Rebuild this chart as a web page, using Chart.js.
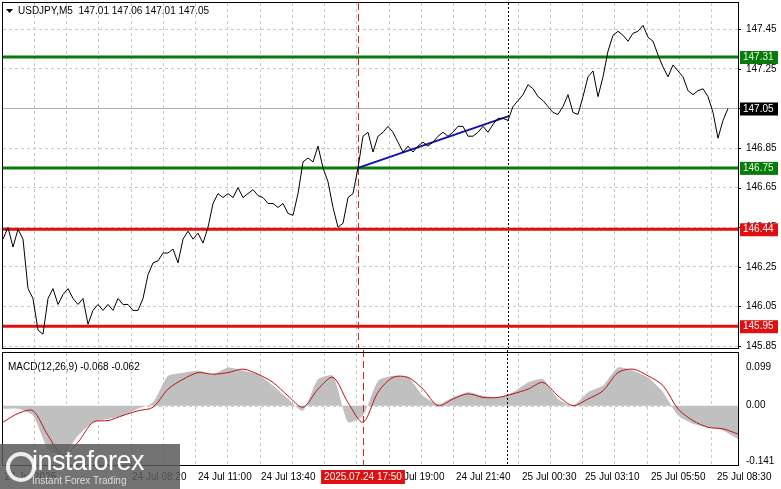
<!DOCTYPE html>
<html><head><meta charset="utf-8">
<script src="https://cdn.jsdelivr.net/npm/chart.js@4"></script>
<style>
body{margin:0;background:#fff;width:781px;height:489px;overflow:hidden;position:relative;font-family:"Liberation Sans",Arial,sans-serif}
#pc{position:absolute;left:0;top:0}
#mc{position:absolute;left:0;top:350px}
#logo{position:absolute;left:0;top:444px;width:180px;height:45px;background:rgba(90,90,90,0.85);color:#fff}
#logo .b{position:absolute;left:32px;top:2px;font-size:27px;letter-spacing:-0.5px}
#logo .s{position:absolute;left:32px;top:31px;font-size:10px;color:#ddd}
#logo .g{position:absolute;left:6px;top:8px;width:22px;height:22px;border:4px solid #eee;border-radius:50%}
</style></head><body>
<canvas id="pc" width="781" height="350"></canvas>
<canvas id="mc" width="781" height="139"></canvas>
<div id="logo"><div class="g"></div><div class="b">instaforex</div><div class="s">Instant Forex Trading</div></div>
<script>
// price, M5 closes
const prices = [146.39,146.45,146.35,146.44,146.39,146.14,146.09,145.93,145.91,146.09,
  146.14,146.06,146.11,146.14,146.09,146.06,146.09,145.96,146.03,146.06,
  146.03,146.06,146.03,146.09,146.06,146.06,146.03,146.03,146.09,146.21,
  146.27,146.28,146.32,146.32,146.34,146.27,146.39,146.43,146.39,146.42,
  146.37,146.45,146.57,146.62,146.60,146.62,146.60,146.65,146.60,146.62,
  146.64,146.61,146.60,146.57,146.57,146.55,146.57,146.52,146.51,146.62,
  146.78,146.80,146.78,146.86,146.75,146.68,146.55,146.45,146.47,146.60,
  146.62,146.75,146.91,146.93,146.83,146.91,146.93,146.96,146.93,146.88,
  146.83,146.86,146.83,146.86,146.88,146.86,146.88,146.91,146.93,146.91,
  146.93,146.96,146.96,146.91,146.91,146.93,146.96,146.93,146.97,147.00,
  147.00,146.99,147.06,147.09,147.12,147.17,147.15,147.11,147.09,147.06,
  147.03,147.02,147.06,147.12,147.03,147.02,147.11,147.21,147.24,147.11,
  147.21,147.34,147.42,147.44,147.42,147.39,147.43,147.44,147.47,147.41,
  147.39,147.32,147.26,147.21,147.27,147.24,147.21,147.14,147.12,147.14,
  147.15,147.11,147.03,146.90,146.99,147.05,null,null];
const priceTicks = [145.85,146.05,146.25,146.45,146.65,146.85,147.05,147.25,147.45];
const greenLevels = [147.31, 146.75];
const redLevels = [146.44, 145.95];
const lastPrice = 147.05;
const trend = [[71,146.75],[101,147.01]];
const redMarkIdx = 71, dotMarkIdx = 101;

// MACD(12,26,9)
const macdHist = [-0.008,-0.008,-0.025,-0.11,-0.126,-0.076,-0.042,-0.034,-0.025,-0.008,
  0.008,0.076,0.084,0.089,0.08,0.097,0.089,0.08,0.051,0.017,
  -0.013,0.067,0.076,-0.042,-0.025,0.063,0.076,0.072,0.025,0.004,
  0.021,0.034,0.025,0.021,0.034,0.059,0.067,0.017,0,0.034,
  0.051,0.097,0.089,0.072,0.034,-0.025,-0.046,-0.055,-0.063,-0.085];
const macdSignal = [-0.042,-0.02,-0.013,-0.076,-0.126,-0.093,-0.042,-0.038,-0.025,-0.013,
  -0.004,0.042,0.067,0.084,0.08,0.084,0.093,0.08,0.059,0.025,
  -0.004,0.042,0.072,0.008,-0.042,0.034,0.072,0.072,0.042,0,
  0.017,0.03,0.021,0.021,0.03,0.042,0.059,0.025,0,0.017,
  0.038,0.084,0.093,0.076,0.051,-0.008,-0.038,-0.055,-0.059,-0.072];
const macdTicks = [0.099, 0.00, -0.141];
const timeLabels = [[0.1,'24 Jul 2025'],[8.6,'24 Jul 08:20'],[13.0,'24 Jul 11:00'],[17.2,'24 Jul 13:40'],
  [25.8,'24 Jul 19:00'],[30.2,'24 Jul 21:40'],[34.6,'25 Jul 00:30'],[38.8,'25 Jul 03:10'],
  [43.2,'25 Jul 05:50'],[47.6,'25 Jul 08:30']];
const markLabel = [24.0,'2025.07.24 17:50'];

const FONT = '10px "Liberation Sans", Arial';
function vgrid(ctx, a) {
  ctx.save(); ctx.strokeStyle = '#c8c8c8'; ctx.setLineDash([3,3]); ctx.lineWidth = 1;
  for (let x = 33.75; x < a.right; x += 32.25) {
    ctx.beginPath(); ctx.moveTo(Math.round(x)+0.5, a.top); ctx.lineTo(Math.round(x)+0.5, a.bottom); ctx.stroke();
  }
  ctx.restore();
}
function tag(ctx, y, text, bg, fg) {
  ctx.fillStyle = bg; ctx.fillRect(740, y-6, 38, 13);
  ctx.fillStyle = fg; ctx.font = FONT; ctx.textBaseline = 'middle'; ctx.textAlign = 'left';
  ctx.fillText(text, 743, y+0.5);
}
function axisText(ctx, s, ticks, fmt) {
  ctx.fillStyle = '#000'; ctx.font = FONT; ctx.textBaseline = 'middle'; ctx.textAlign = 'left';
  ticks.forEach(v => ctx.fillText(fmt(v), 746, s.getPixelForValue(v)));
}

const labelsP = prices.map((_, i) => i);
new Chart(document.getElementById('pc'), {
  type: 'line',
  data: { labels: labelsP, datasets: [
    { data: prices, borderColor: '#000', borderWidth: 1, pointRadius: 0, tension: 0 },
    { data: labelsP.map(i => i === trend[0][0] ? trend[0][1] : i === trend[1][0] ? trend[1][1] : null),
      borderColor: '#1010b0', borderWidth: 2, pointRadius: 0, spanGaps: true }
  ]},
  options: {
    responsive: false, animation: false,
    layout: { padding: { left: 3, top: 3, bottom: 2, right: 0 } },
    plugins: { legend: { display: false }, tooltip: { enabled: false } },
    scales: {
      x: { display: false, offset: false },
      y: { position: 'right', min: 145.84, max: 147.583,
        afterFit(s) { s.width = 43; },
        afterBuildTicks(s) { s.ticks = priceTicks.map(v => ({ value: v })); },
        ticks: { display: false },
        grid: { color: '#c8c8c8', drawTicks: false },
        border: { display: false, dash: [3,3] } }
    }
  },
  plugins: [{
    id: 'deco',
    beforeDatasetsDraw(c) {
      const ctx = c.ctx, a = c.chartArea, y = c.scales.y, x = c.scales.x;
      vgrid(ctx, a);
      ctx.save();
      ctx.strokeStyle = '#b0b0b0'; ctx.lineWidth = 1;
      const yl = Math.round(y.getPixelForValue(lastPrice)) + 0.5;
      ctx.beginPath(); ctx.moveTo(a.left, yl); ctx.lineTo(a.right, yl); ctx.stroke();
      ctx.lineWidth = 3;
      greenLevels.forEach(v => { const p = y.getPixelForValue(v); ctx.strokeStyle = '#0a7a0a';
        ctx.beginPath(); ctx.moveTo(a.left, p); ctx.lineTo(a.right, p); ctx.stroke(); });
      redLevels.forEach(v => { const p = y.getPixelForValue(v); ctx.strokeStyle = '#e01010';
        ctx.beginPath(); ctx.moveTo(a.left, p); ctx.lineTo(a.right, p); ctx.stroke(); });
      ctx.lineWidth = 1;
      let px = Math.round(x.getPixelForValue(redMarkIdx)) + 0.5;
      ctx.strokeStyle = '#d02020'; ctx.setLineDash([7,4]);
      ctx.beginPath(); ctx.moveTo(px, a.top); ctx.lineTo(px, a.bottom); ctx.stroke();
      px = Math.round(x.getPixelForValue(dotMarkIdx)) + 0.5;
      ctx.strokeStyle = '#000'; ctx.setLineDash([2,2]);
      ctx.beginPath(); ctx.moveTo(px, a.top); ctx.lineTo(px, a.bottom); ctx.stroke();
      ctx.restore();
    },
    afterDraw(c) {
      const ctx = c.ctx, a = c.chartArea, y = c.scales.y;
      ctx.save();
      ctx.strokeStyle = '#000'; ctx.lineWidth = 1;
      ctx.strokeRect(a.left - 0.5, a.top - 0.5, a.right - a.left + 1, a.bottom - a.top + 1);
      priceTicks.forEach(v => { const p = Math.round(y.getPixelForValue(v)) + 0.5;
        ctx.beginPath(); ctx.moveTo(a.right, p); ctx.lineTo(a.right + 3, p); ctx.stroke(); });
      axisText(ctx, y, priceTicks, v => v.toFixed(2));
      greenLevels.forEach(v => tag(ctx, y.getPixelForValue(v), v.toFixed(2), '#0a7a0a', '#d8ffd8'));
      redLevels.forEach(v => tag(ctx, y.getPixelForValue(v), v.toFixed(2), '#e01010', '#fff'));
      tag(ctx, y.getPixelForValue(lastPrice), lastPrice.toFixed(2), '#000', '#fff');
      ctx.fillStyle = '#000'; ctx.font = FONT; ctx.textBaseline = 'middle'; ctx.textAlign = 'left';
      ctx.beginPath(); ctx.moveTo(6, 9); ctx.lineTo(13, 9); ctx.lineTo(9.5, 13); ctx.fill();
      ctx.fillText('USDJPY,M5  147.01 147.06 147.01 147.05', 18, 11);
      ctx.restore();
    }
  }]
});

new Chart(document.getElementById('mc'), {
  type: 'line',
  data: { labels: macdHist.map((_, i) => i), datasets: [
    { data: macdSignal, borderColor: '#c01010', borderWidth: 1, pointRadius: 0, tension: 0.3 },
    { data: macdHist, borderWidth: 0, pointRadius: 0, fill: 'origin', backgroundColor: '#c0c0c0', tension: 0.2 }
  ]},
  options: {
    responsive: false, animation: false,
    layout: { padding: { left: 3, top: 3, bottom: 24, right: 0 } },
    plugins: { legend: { display: false }, tooltip: { enabled: false } },
    scales: {
      x: { display: false, offset: false },
      y: { position: 'right', min: -0.151, max: 0.134,
        afterFit(s) { s.width = 43; },
        ticks: { display: false },
        grid: { display: false }, border: { display: false } }
    }
  },
  plugins: [{
    id: 'deco2',
    beforeDatasetsDraw(c) {
      const ctx = c.ctx, a = c.chartArea, y = c.scales.y;
      vgrid(ctx, a);
      ctx.save();
      ctx.strokeStyle = '#c8c8c8'; ctx.setLineDash([3,3]);
      const z = Math.round(y.getPixelForValue(0)) + 0.5;
      ctx.beginPath(); ctx.moveTo(a.left, z); ctx.lineTo(a.right, z); ctx.stroke();
      ctx.restore();
    },
    afterDraw(c) {
      const ctx = c.ctx, a = c.chartArea, x = c.scales.x, y = c.scales.y;
      ctx.save();
      ctx.lineWidth = 1;
      let px = Math.round(x.getPixelForValue(markLabel[0])) + 0.5;
      ctx.strokeStyle = '#d02020'; ctx.setLineDash([7,4]);
      ctx.beginPath(); ctx.moveTo(px, 0); ctx.lineTo(px, a.bottom); ctx.stroke();
      ctx.strokeStyle = '#000'; ctx.setLineDash([2,2]);
      const dx = 507.5;
      ctx.beginPath(); ctx.moveTo(dx, 0); ctx.lineTo(dx, a.bottom); ctx.stroke();
      ctx.setLineDash([]);
      ctx.strokeRect(a.left - 0.5, a.top - 0.5, a.right - a.left + 1, a.bottom - a.top + 1);
      axisText(ctx, y, macdTicks, v => v === 0 ? '0.00' : v.toFixed(3));
      ctx.fillStyle = '#000'; ctx.font = FONT; ctx.textBaseline = 'middle'; ctx.textAlign = 'left';
      ctx.fillText('MACD(12,26,9) -0.068 -0.062', 8, a.top + 14);
      timeLabels.forEach(([i, t]) => ctx.fillText(t, x.getPixelForValue(i), a.bottom + 12));
      const mx = x.getPixelForValue(markLabel[0]);
      ctx.font = FONT; const w = ctx.measureText(markLabel[1]).width + 6;
      ctx.fillStyle = '#e01010'; ctx.fillRect(mx - w/2, a.bottom + 5, w, 14);
      ctx.fillStyle = '#fff'; ctx.textAlign = 'center'; ctx.fillText(markLabel[1], mx, a.bottom + 12);
      ctx.restore();
    }
  }]
});
</script></body></html>
